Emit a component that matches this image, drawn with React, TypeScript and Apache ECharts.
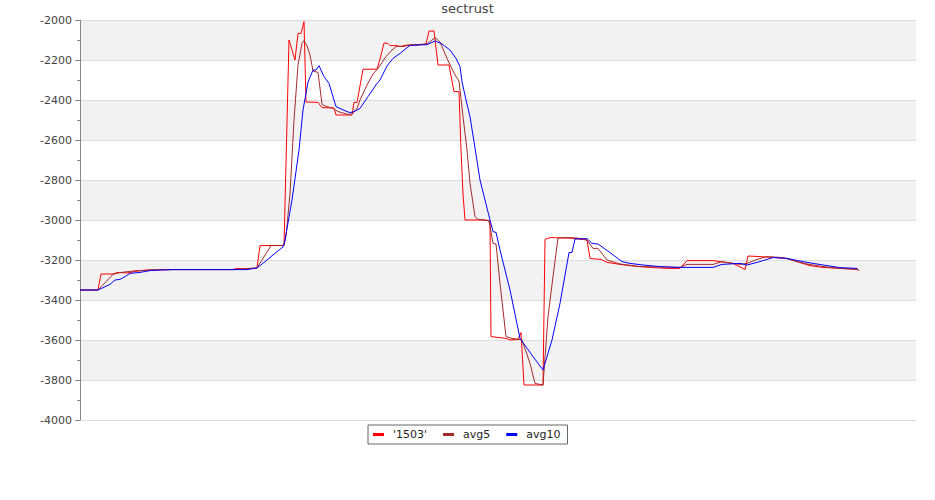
import React, { useEffect, useRef } from "react";
import * as echarts from "echarts";

const chartTitle = "sectrust";
const seriesNames = ["'1503'", "avg5", "avg10"];
const seriesColors = ["#ff0000", "#a52a2a", "#0000ff"];
const yMin = -4000;
const yMax = -2000;
const yStep = 200;
const xMin = 0;
const xMax = 836;

// [time, value]
const s1503: [number, number][] = [
  [0, -3350], [18, -3350], [21, -3270], [33, -3270], [38, -3262], [47, -3265], [58, -3255], [68, -3250],
  [93, -3248], [153, -3248], [157, -3242], [162, -3244], [177, -3240], [180, -3128], [204, -3127],
  [209, -2100], [215, -2200], [218, -2067], [221, -2067], [224, -2008], [226, -2410], [238, -2412],
  [242, -2438], [254, -2440], [256, -2475], [272, -2475], [274, -2412], [277, -2412], [283, -2246],
  [297, -2246], [300, -2195], [304, -2115], [308, -2117], [310, -2128], [316, -2128], [320, -2133],
  [327, -2125], [338, -2125], [346, -2120], [349, -2055], [354, -2055], [358, -2225], [369, -2225],
  [374, -2358], [379, -2358], [381, -2650], [383, -2870], [385, -3000], [402, -3000], [407, -3003],
  [410, -3008], [411, -3583], [426, -3592], [430, -3600], [438, -3597], [441, -3563], [444, -3825],
  [463, -3825], [465, -3097], [470, -3088], [486, -3090], [495, -3093], [507, -3100], [510, -3192],
  [521, -3197], [527, -3212], [540, -3222], [553, -3230], [570, -3237], [587, -3242], [600, -3242],
  [607, -3203], [633, -3203], [640, -3208], [653, -3217], [663, -3242], [665, -3248], [668, -3180],
  [680, -3183], [693, -3187], [707, -3192], [720, -3213], [730, -3228], [743, -3237], [760, -3242],
  [777, -3247], [779, -3253],
];

const avg5: [number, number][] = [
  [0, -3350], [18, -3350], [33, -3272], [40, -3263], [53, -3255], [70, -3250], [93, -3248], [155, -3248],
  [177, -3240], [191, -3128], [204, -3128], [206, -3080], [210, -2870], [214, -2500], [218, -2225],
  [222, -2117], [224, -2103], [227, -2130], [230, -2175], [233, -2255], [238, -2262], [242, -2420],
  [244, -2428], [253, -2442], [258, -2458], [268, -2472], [272, -2470], [277, -2442], [280, -2400],
  [287, -2325], [293, -2270], [298, -2242], [306, -2183], [312, -2150], [317, -2130], [323, -2133],
  [330, -2125], [347, -2120], [350, -2108], [355, -2088], [360, -2110], [367, -2192], [375, -2275],
  [379, -2305], [383, -2483], [387, -2650], [390, -2817], [395, -2983], [398, -2997], [405, -3000],
  [409, -3003], [413, -3117], [416, -3120], [420, -3317], [426, -3583], [432, -3592], [439, -3597],
  [442, -3600], [450, -3717], [455, -3817], [463, -3825], [468, -3483], [473, -3283], [478, -3090],
  [487, -3088], [497, -3090], [507, -3100], [513, -3142], [518, -3142], [527, -3200], [540, -3220],
  [560, -3233], [600, -3237], [607, -3222], [633, -3222], [642, -3208], [647, -3213], [660, -3222],
  [667, -3217], [677, -3197], [687, -3183], [703, -3188], [717, -3208], [727, -3220], [743, -3233],
  [760, -3242], [778, -3247],
];

const avg10: [number, number][] = [
  [0, -3350], [18, -3350], [30, -3322], [35, -3300], [40, -3297], [45, -3283], [50, -3267], [60, -3262],
  [70, -3253], [80, -3250], [93, -3248], [167, -3248], [177, -3240], [187, -3200], [197, -3158],
  [203, -3135], [205, -3100], [212, -2900], [219, -2650], [223, -2450], [228, -2310], [233, -2250],
  [236, -2250], [239, -2228], [244, -2283], [249, -2317], [256, -2433], [262, -2447], [267, -2458],
  [270, -2463], [274, -2458], [280, -2442], [288, -2383], [297, -2317], [300, -2300], [307, -2230],
  [313, -2192], [320, -2167], [330, -2127], [347, -2123], [355, -2105], [362, -2120], [370, -2150],
  [376, -2192], [380, -2233], [382, -2308], [386, -2400], [390, -2483], [395, -2640], [400, -2800],
  [405, -2900], [410, -3000], [413, -3058], [416, -3062], [420, -3150], [430, -3350], [440, -3592],
  [453, -3683], [463, -3750], [472, -3600], [480, -3417], [489, -3163], [492, -3162], [495, -3095],
  [507, -3093], [512, -3117], [518, -3120], [530, -3163], [542, -3208], [550, -3217], [563, -3225],
  [580, -3233], [600, -3237], [633, -3237], [642, -3222], [660, -3217], [667, -3225], [677, -3212],
  [693, -3188], [707, -3192], [723, -3208], [733, -3217], [747, -3228], [760, -3238], [777, -3242],
  [778, -3247],
];

const seriesData = [s1503, avg5, avg10];
const FONT = "DejaVu Sans";

export default function App() {
  const ref = useRef<HTMLDivElement>(null);
  useEffect(() => {
    document.body.style.margin = "0";
    const chart = echarts.init(ref.current!, null, { renderer: "svg" });
    chart.setOption({
      animation: false,
      title: {
        text: chartTitle,
        left: "center",
        top: 2,
        padding: 0,
        textStyle: { fontFamily: FONT, fontSize: 13, fontWeight: "normal", color: "#444" },
      },
      grid: { left: 80, right: 19, top: 20, bottom: 80 },
      xAxis: { type: "value", min: xMin, max: xMax, show: false },
      yAxis: {
        type: "value",
        min: yMin,
        max: yMax,
        interval: yStep,
        axisLine: { show: true, lineStyle: { color: "#888", width: 1 } },
        axisTick: { show: true, length: 5, lineStyle: { color: "#888" } },
        minorTick: { show: true, splitNumber: 2, length: 3, lineStyle: { color: "#888" } },
        axisLabel: {
          formatter: (v: number) => String(v),
          fontFamily: FONT,
          fontSize: 11,
          color: "#444",
          margin: 8,
        },
        splitLine: { show: true, lineStyle: { color: "#dddddd", width: 1 } },
        splitArea: { show: true, areaStyle: { color: ["#ffffff", "#f2f2f2"] } },
      },
      legend: {
        left: 368,
        top: 425,
        orient: "horizontal",
        borderColor: "#666",
        borderWidth: 1,
        borderRadius: 0,
        padding: [4, 7, 4, 5],
        itemGap: 16,
        itemWidth: 11,
        itemHeight: 3,
        icon: "rect",
        textStyle: { fontFamily: FONT, fontSize: 11, color: "#222", padding: [0, 0, 0, 4] },
        data: seriesNames,
      },
      series: seriesNames.map((name, i) => ({
        name,
        type: "line",
        data: seriesData[i],
        showSymbol: false,
        symbol: "none",
        color: seriesColors[i],
        lineStyle: { width: 1, color: seriesColors[i] },
        emphasis: { disabled: true },
      })),
    });
    return () => chart.dispose();
  }, []);
  return <div ref={ref} style={{ width: 935, height: 500 }} />;
}
